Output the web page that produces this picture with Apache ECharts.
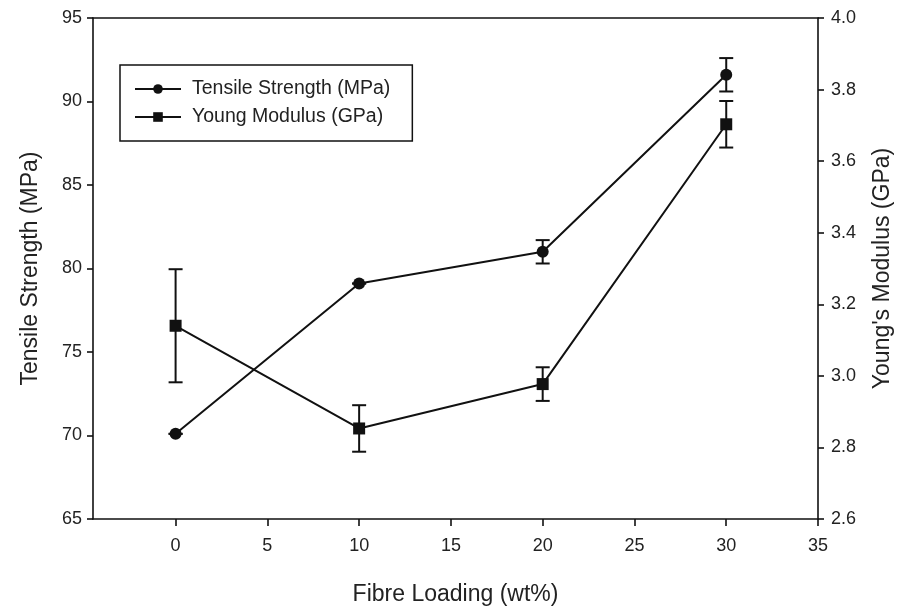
<!DOCTYPE html>
<html>
<head>
<meta charset="utf-8">
<title>Fibre Loading vs Tensile Strength and Young's Modulus</title>
<script src="https://cdn.jsdelivr.net/npm/echarts@6/dist/echarts.min.js"></script>
<style>
  html, body { margin: 0; padding: 0; background: #ffffff; overflow: hidden; }
  #chart { width: 907px; height: 611px; }
</style>
</head>
<body>
<div id="chart"></div>
<script>
// Fibre loading (wt%)
const fibreLoading = [0, 10, 20, 30];
// Tensile strength (MPa) with error
const tensileStrength = [70.1, 79.1, 81.0, 91.6];
const tensileError = [0, 0, 0.7, 1.0];
// Young's modulus (GPa) with error
const youngModulus = [3.14, 2.853, 2.977, 3.703];
const youngError = [0.158, 0.065, 0.047, 0.065];
// Axis ticks
const xTicks = [0, 5, 10, 15, 20, 25, 30, 35];

const FONT = '"Liberation Sans", Arial, sans-serif';
const INK = '#111111';

function pairs(xs, ys) { return xs.map((x, i) => [x, ys[i]]); }
function errRows(xs, ys, es) { return xs.map((x, i) => [x, ys[i] - es[i], ys[i] + es[i]]); }

function errorBarRender(params, api) {
  const x = api.value(0);
  const lo = api.coord([x, api.value(1)]);
  const hi = api.coord([x, api.value(2)]);
  const half = 7;
  const style = { stroke: INK, lineWidth: 2 };
  return {
    type: 'group',
    children: [
      { type: 'line', shape: { x1: lo[0], y1: lo[1], x2: hi[0], y2: hi[1] }, style },
      { type: 'line', shape: { x1: lo[0] - half, y1: lo[1], x2: lo[0] + half, y2: lo[1] }, style },
      { type: 'line', shape: { x1: hi[0] - half, y1: hi[1], x2: hi[0] + half, y2: hi[1] }, style }
    ]
  };
}

const chart = echarts.init(document.getElementById('chart'), null, { renderer: 'canvas' });

const axisLineStyle = { show: true, onZero: false, lineStyle: { color: INK, width: 1.6 } };
const labelStyle = { color: '#222', fontFamily: FONT, fontSize: 18 };
const nameStyle = { color: '#222', fontFamily: FONT, fontSize: 23 };

chart.setOption({
  animation: false,
  backgroundColor: '#ffffff',
  grid: { left: 93, right: 89, top: 18, bottom: 88, containLabel: false },
  legend: {
    orient: 'vertical',
    left: 120,
    top: 65,
    padding: [14, 22, 14, 14],
    itemGap: 8,
    itemWidth: 46,
    itemHeight: 12,
    borderColor: INK,
    borderWidth: 1.5,
    textStyle: { color: '#222', fontFamily: FONT, fontSize: 19.5, padding: [0, 0, 0, 6] },
    data: ['Tensile Strength (MPa)', 'Young Modulus (GPa)']
  },
  xAxis: [
    {
      type: 'value',
      min: -4.5,
      max: 35,
      name: 'Fibre Loading (wt%)',
      nameLocation: 'middle',
      nameGap: 64,
      nameTextStyle: nameStyle,
      axisLine: axisLineStyle,
      axisTick: { show: true, length: 7, lineStyle: { color: INK, width: 1.6 }, customValues: xTicks },
      axisLabel: Object.assign({ margin: 18, customValues: xTicks }, labelStyle),
      splitLine: { show: false }
    },
    {
      type: 'value',
      position: 'top',
      min: -4.5,
      max: 35,
      axisLine: axisLineStyle,
      axisTick: { show: false },
      axisLabel: { show: false },
      splitLine: { show: false }
    }
  ],
  yAxis: [
    {
      type: 'value',
      min: 65,
      max: 95,
      interval: 5,
      position: 'left',
      name: 'Tensile Strength (MPa)',
      nameLocation: 'middle',
      nameGap: 51,
      nameTextStyle: nameStyle,
      axisLine: axisLineStyle,
      axisTick: { show: true, length: 6, lineStyle: { color: INK, width: 1.6 } },
      axisLabel: Object.assign({ margin: 11 }, labelStyle),
      splitLine: { show: false }
    },
    {
      type: 'value',
      min: 2.6,
      max: 4.0,
      interval: 0.2,
      position: 'right',
      name: "Young's Modulus (GPa)",
      nameLocation: 'middle',
      nameGap: 53,
      nameRotate: 90,
      nameTextStyle: nameStyle,
      axisLine: axisLineStyle,
      axisTick: { show: true, length: 6, lineStyle: { color: INK, width: 1.6 } },
      axisLabel: Object.assign({ margin: 13, formatter: v => v.toFixed(1) }, labelStyle),
      splitLine: { show: false }
    }
  ],
  series: [
    {
      name: 'Tensile Strength error',
      type: 'custom',
      xAxisIndex: 0,
      yAxisIndex: 0,
      renderItem: errorBarRender,
      data: errRows(fibreLoading, tensileStrength, tensileError),
      z: 2
    },
    {
      name: 'Young Modulus error',
      type: 'custom',
      xAxisIndex: 0,
      yAxisIndex: 1,
      renderItem: errorBarRender,
      data: errRows(fibreLoading, youngModulus, youngError),
      z: 2
    },
    {
      name: 'Tensile Strength (MPa)',
      type: 'line',
      xAxisIndex: 0,
      yAxisIndex: 0,
      data: pairs(fibreLoading, tensileStrength),
      symbol: 'circle',
      symbolSize: 12,
      lineStyle: { color: INK, width: 2 },
      itemStyle: { color: INK },
      z: 3
    },
    {
      name: 'Young Modulus (GPa)',
      type: 'line',
      xAxisIndex: 0,
      yAxisIndex: 1,
      data: pairs(fibreLoading, youngModulus),
      symbol: 'rect',
      symbolSize: 12,
      lineStyle: { color: INK, width: 2 },
      itemStyle: { color: INK },
      z: 3
    }
  ]
});
</script>
</body>
</html>
